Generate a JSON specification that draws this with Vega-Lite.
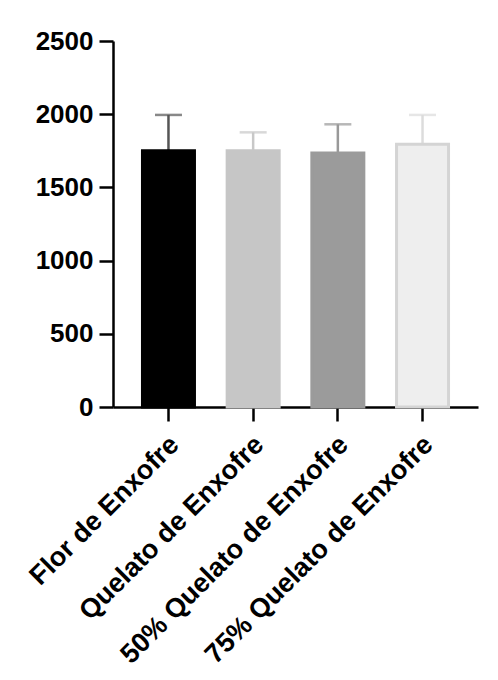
{
  "$schema": "https://vega.github.io/schema/vega-lite/v6.json",
  "width": 365,
  "height": 366,
  "autosize": {"type": "none"},
  "padding": {"left": 113, "top": 41, "right": 20, "bottom": 273},
  "background": "white",
  "config": {"view": {"stroke": null}},
  "data": {
    "values": [
      {"grupo": "Flor de Enxofre", "media": 1750, "sup": 1995},
      {"grupo": "Quelato de Enxofre", "media": 1750, "sup": 1876},
      {"grupo": "50% Quelato de Enxofre", "media": 1735, "sup": 1931},
      {"grupo": "75% Quelato de Enxofre", "media": 1795, "sup": 1995}
    ]
  },
  "encoding": {
    "x": {
      "field": "grupo",
      "type": "nominal",
      "sort": null,
      "scale": {"paddingInner": 0.386, "paddingOuter": 0.348},
      "axis": {
        "title": null,
        "labelAngle": -45,
        "labelFont": "Liberation Sans",
        "labelFontSize": 27,
        "labelFontWeight": "bold",
        "labelColor": "black",
        "labelLimit": 0,
        "labelPadding": 10,
        "labelOffset": -3,
        "domainColor": "black",
        "domainWidth": 2.5,
        "tickColor": "black",
        "tickWidth": 2.5,
        "tickSize": 14
      }
    }
  },
  "layer": [
    {
      "mark": {"type": "rule", "strokeWidth": 2.5},
      "encoding": {
        "y": {"field": "media", "type": "quantitative", "scale": {"domain": [0, 2500], "nice": false}},
        "y2": {"field": "sup"},
        "color": {
          "field": "grupo",
          "type": "nominal",
          "scale": {
            "domain": ["Flor de Enxofre", "Quelato de Enxofre", "50% Quelato de Enxofre", "75% Quelato de Enxofre"],
            "range": ["#555555", "#c8c8c8", "#999999", "#dcdcdc"]
          },
          "legend": null
        }
      }
    },
    {
      "mark": {"type": "tick", "thickness": 2.5, "size": 27, "orient": "horizontal"},
      "encoding": {
        "y": {"field": "sup", "type": "quantitative", "scale": {"domain": [0, 2500], "nice": false}},
        "color": {"field": "grupo", "type": "nominal", "legend": null}
      }
    },
    {
      "mark": {"type": "bar", "strokeWidth": 3},
      "encoding": {
        "y": {
          "field": "media",
          "type": "quantitative",
          "scale": {"domain": [0, 2500], "nice": false},
          "axis": {
            "title": null,
            "values": [0, 500, 1000, 1500, 2000, 2500],
            "format": "d",
            "grid": false,
            "labelFont": "Liberation Sans",
            "labelFontSize": 26,
            "labelFontWeight": "bold",
            "labelColor": "black",
            "labelPadding": 6,
            "domainColor": "black",
            "domainWidth": 2.5,
            "tickColor": "black",
            "tickWidth": 2.5,
            "tickSize": 14
          }
        },
        "fill": {
          "field": "grupo",
          "type": "nominal",
          "scale": {
            "domain": ["Flor de Enxofre", "Quelato de Enxofre", "50% Quelato de Enxofre", "75% Quelato de Enxofre"],
            "range": ["#000000", "#c6c6c6", "#9b9b9b", "#eeeeee"]
          },
          "legend": null
        },
        "stroke": {
          "field": "grupo",
          "type": "nominal",
          "scale": {
            "domain": ["Flor de Enxofre", "Quelato de Enxofre", "50% Quelato de Enxofre", "75% Quelato de Enxofre"],
            "range": ["#000000", "#c6c6c6", "#9b9b9b", "#d4d4d4"]
          },
          "legend": null
        }
      }
    }
  ]
}
